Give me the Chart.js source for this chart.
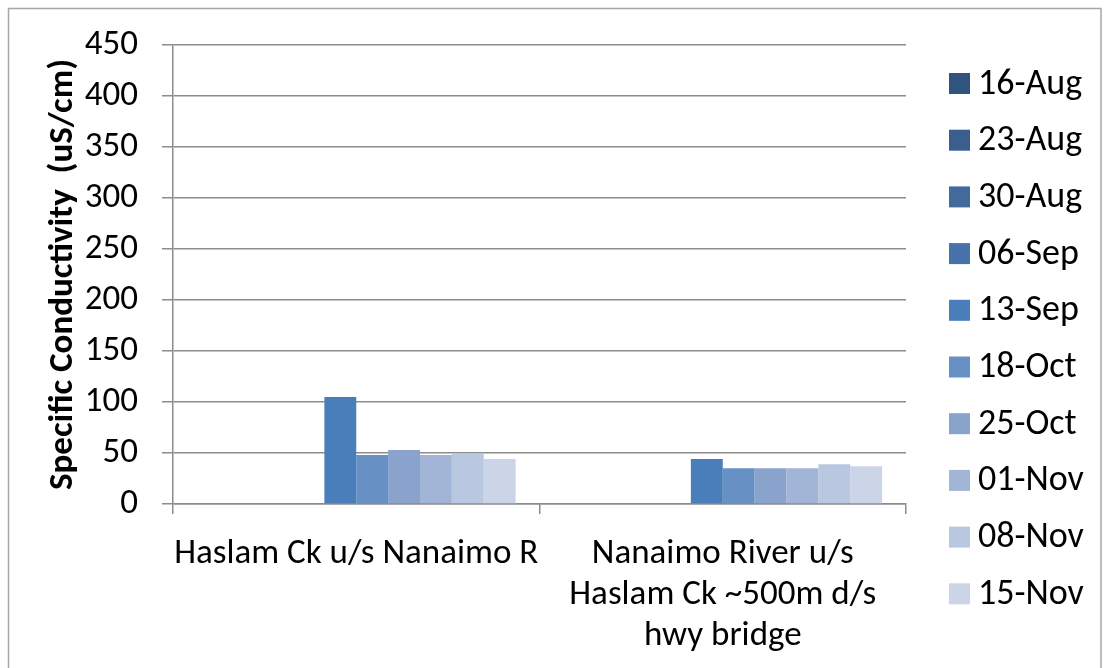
<!DOCTYPE html>
<html>
<head>
<meta charset="utf-8">
<script src="https://cdn.jsdelivr.net/npm/chart.js@4.4.1/dist/chart.umd.min.js"></script>
<style>
  html, body { margin: 0; padding: 0; background: #ffffff; }
  #wrap { width: 1105px; height: 668px; position: relative; }
</style>
</head>
<body>
<div id="wrap"><canvas id="c" width="1105" height="668"></canvas></div>
<script>
// Sampling sites (x categories)
const sites = [
  'Haslam Ck u/s Nanaimo R',
  ['Nanaimo River u/s', 'Haslam Ck ~500m d/s', 'hwy bridge']
];

// Sampling dates (one series each)
const dates = ['16-Aug', '23-Aug', '30-Aug', '06-Sep', '13-Sep',
               '18-Oct', '25-Oct', '01-Nov', '08-Nov', '15-Nov'];

// Specific conductivity (uS/cm) per date, for each site
const haslamCk     = [null, null, null, null, 105, 48, 53, 48, 49, 44];
const nanaimoRiver = [null, null, null, null,  44, 35, 35, 35, 39, 37];

// Y axis tick values
const yTicks = [0, 50, 100, 150, 200, 250, 300, 350, 400, 450];

// Series fills, dark to light blue
const seriesColors = ['#31547f', '#3b5e8d', '#426a9d', '#4873aa', '#4a7ebb',
                      '#6790c4', '#8aa3cd', '#a3b5d7', '#bac7e0', '#ccd5e7'];

const FONT = 'Carlito, Lato, "DejaVu Sans", sans-serif';
const GRID = '#8c8c8c';

const datasets = dates.map((d, i) => ({
  label: d,
  data: [haslamCk[i], nanaimoRiver[i]],
  backgroundColor: seriesColors[i],
  borderWidth: 0,
  categoryPercentage: 10 / 11.5,
  barPercentage: 1.0
}));

// Outer frame around the whole chart
const framePlugin = {
  id: 'frame',
  beforeDraw(chart) {
    const ctx = chart.ctx;
    ctx.save();
    ctx.fillStyle = '#ffffff';
    ctx.fillRect(0, 0, chart.width, chart.height);
    ctx.strokeStyle = '#a6a6a6';
    ctx.lineWidth = 1.5;
    ctx.strokeRect(8.5, 8.5, chart.width - 4 - 8.5, chart.height + 10);
    ctx.restore();
  }
};

// Vertical legend on the right
const sideLegend = {
  id: 'sideLegend',
  afterDraw(chart) {
    const ctx = chart.ctx;
    const area = chart.chartArea;
    const x0 = area.right + 43;
    const y0 = 83.5;
    const step = 56.7;
    const box = 21;
    ctx.save();
    ctx.font = '36px ' + FONT;
    ctx.textBaseline = 'middle';
    ctx.textAlign = 'left';
    chart.data.datasets.forEach((ds, i) => {
      const cy = y0 + i * step;
      ctx.fillStyle = ds.backgroundColor;
      ctx.fillRect(x0, cy - box / 2, box, box);
      ctx.fillStyle = '#000000';
      ctx.fillText(ds.label, x0 + box + 8, cy + 1);
    });
    ctx.restore();
  }
};

new Chart(document.getElementById('c'), {
  type: 'bar',
  data: { labels: sites, datasets },
  options: {
    responsive: false,
    devicePixelRatio: 1,
    animation: false,
    layout: { padding: { left: 42, top: 41.5, right: 199, bottom: 0 } },
    plugins: {
      legend: { display: false },
      tooltip: { enabled: false }
    },
    scales: {
      x: {
        afterFit(scale) { scale.height = 164; },
        grid: {
          display: true,
          drawOnChartArea: false,
          drawTicks: true,
          tickLength: 10,
          color: GRID,
          lineWidth: 1.5,
          offset: true
        },
        border: { display: true, color: GRID, width: 1.5 },
        ticks: {
          color: '#000000',
          font: { family: FONT, size: 35, lineHeight: 1.17 },
          padding: 20,
          maxRotation: 0,
          autoSkip: false
        }
      },
      y: {
        min: 0,
        max: 450,
        afterFit(scale) { scale.width = 131; },
        afterBuildTicks(scale) { scale.ticks = yTicks.map(v => ({ value: v })); },
        grid: {
          color: GRID,
          lineWidth: 1.5,
          drawTicks: true,
          tickLength: 11
        },
        border: { display: true, color: GRID, width: 1.5 },
        ticks: {
          color: '#000000',
          font: { family: FONT, size: 35 },
          padding: 24
        },
        title: {
          display: true,
          text: 'Specific Conductivity  (uS/cm)',
          color: '#000000',
          font: { family: FONT, size: 35, weight: 'bold' },
          padding: 0
        }
      }
    }
  },
  plugins: [framePlugin, sideLegend]
});
</script>
</body>
</html>
